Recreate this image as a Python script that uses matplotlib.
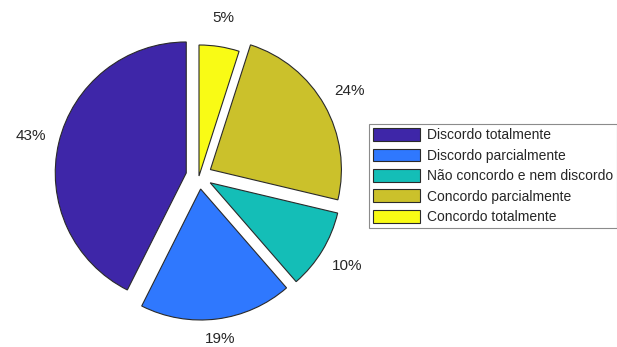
import math
import matplotlib
matplotlib.use("Agg")
import matplotlib.pyplot as plt
from matplotlib.patches import Patch

# Survey responses (percent)
categories = [
    "Discordo totalmente",
    "Discordo parcialmente",
    "Não concordo e nem discordo",
    "Concordo parcialmente",
    "Concordo totalmente",
]
percentages = [43, 19, 10, 24, 5]
pct_labels = [f"{p}%" for p in percentages]
exploded = [True, True, True, True, False]

colors = ["#3E26A8", "#2F78FE", "#14BEB7", "#CBC12B", "#F9FB15"]

W, H = 617, 347
fig = plt.figure(figsize=(W / 100, H / 100), dpi=100)
ax = fig.add_axes([0, 0, 1, 1])

FONT = ["Liberation Sans", "DejaVu Sans"]
plt.rcParams["font.family"] = FONT

R = 131
CENTER = (199, H - 176)
OFFSET = 0.1 * R
explode = [OFFSET if e else 0.0 for e in exploded]

wedges, texts = ax.pie(
    percentages,
    labels=pct_labels,
    colors=colors,
    explode=explode,
    startangle=90,
    counterclock=True,
    radius=R,
    center=CENTER,
    labeldistance=1.2,
    wedgeprops=dict(edgecolor="#2a2a2a", linewidth=0.8),
    textprops=dict(fontsize=11, color="#262626", family=FONT),
    frame=False,
)

# Centre each label on its slice's bisector, outside the rim
LABEL_R = 1.22 * R
for w, t, ex in zip(wedges, texts, explode):
    mid = math.radians((w.theta1 + w.theta2) / 2)
    c, s = math.cos(mid), math.sin(mid)
    x = CENTER[0] + (ex + LABEL_R) * c
    y = CENTER[1] + (ex + LABEL_R) * s
    y = max(y, 8)  # keep the lowest label inside the figure
    t.set_position((x, y))
    t.set_ha("center")
    t.set_va("center")

ax.set_xlim(0, W)
ax.set_ylim(0, H)
ax.set_aspect("equal")
ax.axis("off")

handles = [Patch(facecolor=c, edgecolor="#2a2a2a", linewidth=0.8) for c in colors]
leg = fig.legend(
    handles,
    categories,
    loc="upper left",
    bbox_to_anchor=(369 / W, 1 - 124 / H),
    frameon=True,
    fancybox=False,
    prop=dict(family=FONT, size=10),
    handlelength=3.4,
    handleheight=1.05,
    handletextpad=0.45,
    labelspacing=0.45,
    borderpad=0.3,
    borderaxespad=0,
)
leg.get_frame().set_edgecolor("#6e6e6e")
leg.get_frame().set_linewidth(0.8)
for t in leg.get_texts():
    t.set_color("#262626")

fig.savefig("out.png", dpi=100, facecolor="white")
